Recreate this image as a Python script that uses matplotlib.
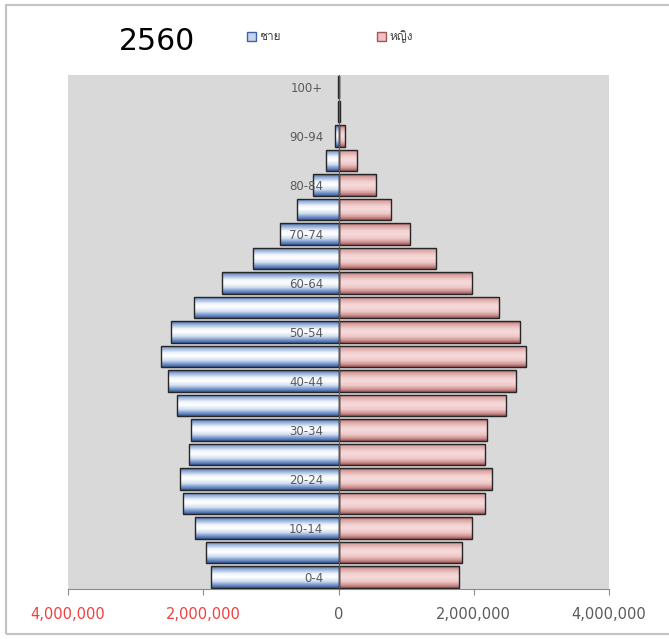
"""
Thai population pyramid, 2560 (Excel style with gradient bars).
"""

import numpy as np
import matplotlib
matplotlib.use("Agg")
import matplotlib.pyplot as plt
from matplotlib import font_manager
from matplotlib.ft2font import FT2Font
from matplotlib.colors import LinearSegmentedColormap
from matplotlib.patches import Patch, Rectangle
from matplotlib.ticker import FuncFormatter

age_groups = ["0-4", "5-9", "10-14", "15-19", "20-24", "25-29", "30-34",
              "35-39", "40-44", "45-49", "50-54", "55-59", "60-64", "65-69",
              "70-74", "75-79", "80-84", "85-89", "90-94", "95-99", "100+"]
male = [1880000, 1960000, 2120000, 2300000, 2340000, 2210000, 2180000,
        2390000, 2520000, 2620000, 2470000, 2130000, 1730000, 1270000,
        860000, 610000, 370000, 180000, 45000, 10000, 2000]
female = [1780000, 1820000, 1970000, 2160000, 2270000, 2160000, 2190000,
          2470000, 2620000, 2770000, 2680000, 2370000, 1970000, 1440000,
          1050000, 770000, 550000, 270000, 100000, 25000, 5000]
x_ticks = [-4000000, -2000000, 0, 2000000, 4000000]
title = "2560"
legend_labels = ["ชาย", "หญิง"]


def thai_font():
    for f in font_manager.fontManager.ttflist:
        try:
            if ord("ช") in FT2Font(f.fname).get_charmap():
                return f.name
        except Exception:
            pass
    return "DejaVu Sans"


W, H = 669, 639
fig = plt.figure(figsize=(W / 100, H / 100), dpi=100)
fig.patch.set_facecolor("white")

# outer chart border (right side runs off the picture)
fig.add_artist(Rectangle((6 / W, 1 - 634 / H), 1.2, (634 - 5) / H,
                         transform=fig.transFigure, fill=False,
                         edgecolor="#c4c4c4", linewidth=1.6))

ax = fig.add_axes([68 / W, 1 - 589 / H, (609 - 68) / W, (589 - 75) / H])
ax.set_facecolor("#d9d9d9")

y = np.arange(len(age_groups))
bar_h = 0.88

blue_cmap = LinearSegmentedColormap.from_list(
    "blue", [(0.0, "#3a5f9e"), (0.12, "#8aa6d4"), (0.35, "#f2f6fd"),
             (0.5, "#ffffff"), (0.7, "#d3def1"), (0.86, "#7898cc"),
             (1.0, "#36599a")])
pink_cmap = LinearSegmentedColormap.from_list(
    "pink", [(0.0, "#a45656"), (0.12, "#d9a2a2"), (0.35, "#f3d1d1"),
             (0.5, "#f6dada"), (0.7, "#efc8c8"), (0.86, "#d39a9a"),
             (1.0, "#9e5454")])
grad = np.linspace(0, 1, 64).reshape(-1, 1)

bars_m = ax.barh(y, -np.array(male), height=bar_h, facecolor="none",
                 edgecolor="#262626", linewidth=1.0, zorder=3)
bars_f = ax.barh(y, female, height=bar_h, facecolor="none",
                 edgecolor="#262626", linewidth=1.0, zorder=3)

for bars, cmap in [(bars_m, blue_cmap), (bars_f, pink_cmap)]:
    for b in bars:
        x0, y0 = b.get_x(), b.get_y()
        x1, y1 = x0 + b.get_width(), y0 + b.get_height()
        im = ax.imshow(grad, cmap=cmap, aspect="auto", origin="upper",
                       extent=(min(x0, x1), max(x0, x1), y0, y1), zorder=2)
        im.set_clip_path(b)

ax.set_xlim(-4000000, 4000000)
ax.set_ylim(-0.5, len(age_groups) - 0.5)

# vertical axis at zero with category labels drawn over the male bars
ax.spines["left"].set_position(("data", 0))
ax.spines["left"].set_color("#5a5a5a")
ax.spines["left"].set_zorder(4)
ax.spines["top"].set_visible(False)
ax.spines["right"].set_visible(False)
ax.spines["bottom"].set_color("#8c8c8c")
ax.set_yticks(y[::2])
ax.set_yticklabels(age_groups[::2], fontsize=8.5, color="#5a5a5a")
ax.tick_params(axis="y", length=0, pad=11)
ax.yaxis.set_zorder(5)

ax.set_xticks(x_ticks)
ax.xaxis.set_major_formatter(FuncFormatter(lambda v, p: f"{abs(v):,.0f}"))
ax.tick_params(axis="x", length=4, color="#8c8c8c", labelsize=10.5,
               labelcolor="#5a5a5a", pad=9)
for t, v in zip(ax.get_xticklabels(), x_ticks):
    if v < 0:
        t.set_color("#f04040")

fig.text(119 / W, 1 - 42 / H, title, fontsize=21.5, color="black",
         va="center", ha="left")

handles = [Patch(facecolor="#c5d3ec", edgecolor="#3d63a3"),
           Patch(facecolor="#ecc2c2", edgecolor="#a45656")]
fig.legend(handles, legend_labels, loc="center left", ncol=2,
           bbox_to_anchor=(236 / W, 1 - 37 / H), frameon=False,
           handlelength=0.8, handleheight=0.8, handletextpad=0.3,
           columnspacing=8.1, prop={"family": thai_font(), "size": 8.5},
           labelcolor="#404040")

fig.savefig("out.png", dpi=100)
